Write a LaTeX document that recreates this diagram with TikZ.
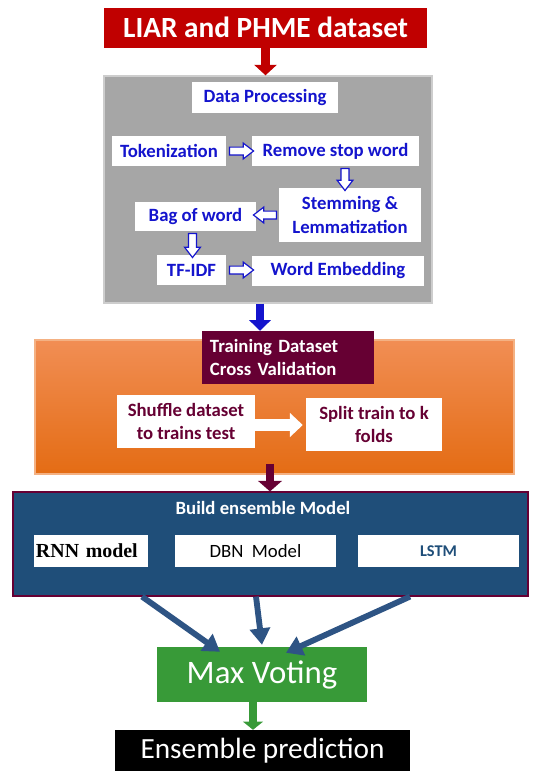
\documentclass[tikz,border=0pt]{standalone}
\usepackage{fontspec}
\setmainfont{Carlito}
\newfontfamily\timesfont{Liberation Serif}
\usetikzlibrary{arrows.meta,shapes.arrows,calc}
\definecolor{dsred}{RGB}{192,0,0}
\definecolor{procgray}{RGB}{166,166,166}
\definecolor{procedge}{RGB}{205,205,205}
\definecolor{stepblue}{RGB}{20,20,205}
\definecolor{cvmaroon}{RGB}{102,0,51}
\definecolor{cvtop}{RGB}{241,142,84}
\definecolor{cvbottom}{RGB}{228,108,20}
\definecolor{cvedge}{RGB}{244,177,131}
\definecolor{ensblue}{RGB}{31,78,121}
\definecolor{modelblue}{RGB}{46,84,132}
\definecolor{votegreen}{RGB}{56,154,56}
\begin{document}
\begin{tikzpicture}[x=0.03cm,y=-0.03cm,
  box/.style={fill=white,inner sep=0pt,align=center},
  stepbox/.style={box,text=stepblue,font=\bfseries\fontsize{16}{20.5}\selectfont,minimum height=0.9cm},
  cvbox/.style={box,text=cvmaroon,font=\bfseries\fontsize{16}{20}\selectfont,minimum height=1.59cm},
  modelbox/.style={box,minimum height=0.96cm},
  hollow/.style={single arrow,draw=stepblue,fill=white,line width=1pt,sloped,allow upside down,
    inner sep=0.1cm,single arrow head extend=0.12cm,single arrow tip angle=75,minimum height=0.72cm},
  modelarrow/.style={modelblue,line width=5pt,-{Triangle[width=17pt,length=14pt]}}]
\useasboundingbox (0,0) rectangle (536,771);

\node[fill=dsred,text=white,font=\bfseries\fontsize{25}{30}\selectfont,minimum width=9.69cm,minimum height=1.2cm,inner sep=0pt] (data) at (265.5,27.5) {LIAR and PHME dataset};
\node[fill=procgray,draw=procedge,line width=1.2pt,minimum width=9.84cm,minimum height=6.81cm] (prep) at (268,189.5) {};
\draw[dsred,line width=7.7pt,-{Triangle[width=19pt,length=9pt]}] (data.south) -- (data.south |- prep.north);

\node[stepbox,minimum width=4.38cm,minimum height=0.93cm] (dp) at (265,97.5) {Data Processing};
\node[stepbox,minimum width=3.42cm] (tok) at (169,151) {Tokenization};
\node[stepbox,minimum width=5.01cm] (rsw) at (335.5,151) {Remove stop word};
\node[stepbox,minimum width=4.26cm,minimum height=1.62cm] (stem) at (350,215) {Stemming \&\\Lemmatization};
\node[stepbox,minimum width=3.63cm,minimum height=0.87cm] (bow) at (195.5,216.5) {Bag of word};
\node[stepbox,minimum width=2.07cm] (tfidf) at (191.5,270) {TF-IDF};
\node[stepbox,minimum width=5.16cm] (emb) at (338,271) {Word Embedding};

\path (tok.east) -- node[hollow] (h1) {} (rsw.west);
\path ($(rsw.south)+(9.5,0)$) -- node[hollow,minimum height=0.66cm] (h2) {} ($(rsw.south |- stem.north)+(9.5,0)$);
\path (stem.west) -- node[hollow,minimum height=0.69cm] (h3) {} (stem.west -| bow.east);
\path ($(bow.south)+(-3,0)$) -- node[hollow] (h4) {} ($(bow.south |- tfidf.north)+(-3,0)$);
\path (tfidf.east) -- node[hollow] (h5) {} (tfidf.east -| emb.west);

\node[top color=cvtop,bottom color=cvbottom,draw=cvedge,line width=1pt,minimum width=14.37cm,minimum height=4.02cm] (cv) at (274.5,407) {};
\node[fill=cvmaroon,text=white,font=\bfseries\fontsize{16}{20}\selectfont,text width=4.68cm,inner xsep=0.24cm,inner ysep=0pt,align=left,minimum width=5.16cm,minimum height=1.59cm] (tdcv) at (288,357.5) {Training Dataset\\Cross Validation};
\draw[stepblue,line width=6pt,-{Triangle[width=18pt,length=9pt]}] ($(prep.south)+(-8,0)$) -- ($(prep.south |- tdcv.north)+(-8,0)$);

\node[cvbox,minimum width=4.14cm] (shuf) at (186,421.5) {Shuffle dataset\\to trains test};
\node[cvbox,minimum width=4.08cm] (split) at (374,424.5) {Split train to k\\folds};
\draw[white,line width=10pt,-{Triangle[width=20pt,length=11pt]}] ($(shuf.east)+(0,3.5)$) -- ($(shuf.east -| split.west)+(-3,3.5)$);

\node[fill=ensblue,draw=cvmaroon,line width=1pt,minimum width=15.45cm,minimum height=3.12cm] (ens) at (270.5,544) {};
\draw[cvmaroon,line width=7pt,-{Triangle[width=20pt,length=9pt]}] ($(cv.south)+(-4.5,-11)$) -- ($(cv.south |- ens.north)+(-4.5,0)$);
\node[text=white,font=\bfseries\fontsize{16}{20}\selectfont] (enslabel) at (263,508) {Build ensemble Model};
\node[modelbox,text width=3.3cm,inner xsep=0.06cm,align=left,minimum width=3.42cm,font=\timesfont\bfseries\fontsize{17}{20}\selectfont] (rnn) at (91,551) {RNN model};
\node[modelbox,minimum width=4.83cm,font=\fontsize{16}{20}\selectfont] (dbn) at (255.5,551) {DBN\ \ Model};
\node[modelbox,minimum width=4.83cm,text=ensblue,font=\bfseries\fontsize{14}{16}\selectfont] (lstm) at (438.5,551) {LSTM};

\node[fill=votegreen,text=white,font=\fontsize{28}{34}\selectfont,minimum width=6.3cm,minimum height=1.65cm,inner sep=0pt] (vote) at (262,674.5) {Max Voting};
\draw[modelarrow] ($(ens.south)+(-128.5,0)$) -- ($(vote.north)+(-42,5)$);
\draw[modelarrow] ($(ens.south)+(-14.5,0)$) -- ($(vote.north)+(0,-2)$);
\draw[modelarrow] ($(ens.south)+(139.5,0)$) -- ($(vote.north)+(24,6)$);

\node[fill=black,text=white,font=\fontsize{25}{30}\selectfont,minimum width=8.85cm,minimum height=1.23cm,inner sep=0pt] (pred) at (262.5,750.5) {Ensemble prediction};
\draw[votegreen,line width=6pt,-{Triangle[width=17pt,length=7pt]}] ($(vote.south)+(-9,0)$) -- ($(vote.south |- pred.north)+(-9,0)$);
\end{tikzpicture}
\end{document}
